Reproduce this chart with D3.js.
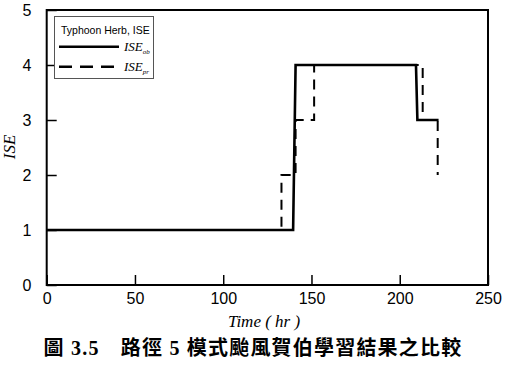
<!DOCTYPE html>
<html>
<head>
<meta charset="utf-8">
<style>
  body { margin: 0; background: #fff; }
  svg { display: block; }
  .tick text { font-family: Arial, 'Liberation Sans', sans-serif; font-size: 16px; fill: #000; }
</style>
</head>
<body>
<svg width="505" height="365"></svg>
<script src="https://d3js.org/d3.v7.min.js"></script>
<script>
// observed ISE and predicted ISE (step series)
let obTime = [0, 139.6, 141, 209.2, 210, 222];
let obISE  = [1, 1, 4, 4, 3, 3];
let prTime = [0, 133, 133, 141, 141, 151.5, 151.5, 213, 213, 221.5, 221.5];
let prISE  = [1, 1, 2, 2, 3, 3, 4, 4, 3, 3, 2];
let xTicks = [0, 50, 100, 150, 200, 250];
let yTicks = [0, 1, 2, 3, 4, 5];

let svg = d3.select("svg");
let x = d3.scaleLinear().domain([0, 250]).range([46.7, 488]);
let y = d3.scaleLinear().domain([0, 5]).range([285, 10]);

// inward ticks
let xAxis = svg.append("g")
  .attr("transform", `translate(0,${y(0)})`)
  .call(d3.axisBottom(x).tickValues(xTicks).tickFormat(d3.format("d")).tickSize(-10).tickPadding(16));
let yAxis = svg.append("g")
  .attr("transform", `translate(${x(0)},0)`)
  .call(d3.axisLeft(y).tickValues(yTicks).tickFormat(d3.format("d")).tickSize(-10).tickPadding(12));
[xAxis, yAxis].forEach(a => {
  a.select(".domain").remove();
  a.selectAll(".tick line").attr("stroke", "#000").attr("stroke-width", 1.5);
});
xAxis.selectAll(".tick text").attr("dy", "0.2em");
yAxis.selectAll(".tick text").attr("dx", "-0.2em");

// frame
svg.append("rect")
  .attr("x", x(0)).attr("y", y(5))
  .attr("width", x(250) - x(0)).attr("height", y(0) - y(5))
  .attr("fill", "none").attr("stroke", "#000").attr("stroke-width", 2);

let line = d3.line().x(d => x(d[0])).y(d => y(d[1]));

svg.append("path")
  .datum(prTime.map((t, i) => [t, prISE[i]]))
  .attr("d", line)
  .attr("fill", "none").attr("stroke", "#000").attr("stroke-width", 2)
  .attr("stroke-dasharray", "10,7");

svg.append("path")
  .datum(obTime.map((t, i) => [t, obISE[i]]))
  .attr("d", line)
  .attr("fill", "none").attr("stroke", "#000").attr("stroke-width", 2.6);

// legend
let lg = svg.append("g");
lg.append("rect").attr("x", 54.5).attr("y", 16.5).attr("width", 99).attr("height", 62)
  .attr("fill", "#fff").attr("stroke", "#555").attr("stroke-width", 1);
lg.append("text").attr("x", 61).attr("y", 34)
  .style("font-family", "Arial, 'Liberation Sans', sans-serif").style("font-size", "10.5px")
  .text("Typhoon Herb, ISE");
lg.append("line").attr("x1", 59).attr("x2", 119).attr("y1", 46.7).attr("y2", 46.7)
  .attr("stroke", "#000").attr("stroke-width", 2.6);
lg.append("line").attr("x1", 59).attr("x2", 119).attr("y1", 66.7).attr("y2", 66.7)
  .attr("stroke", "#000").attr("stroke-width", 2.6).attr("stroke-dasharray", "13,8");
[["ob", 50.5], ["pr", 70.5]].forEach(([sub, yy]) => {
  let t = lg.append("text").attr("x", 124).attr("y", yy)
    .style("font-family", "'Liberation Serif', serif").style("font-style", "italic").style("font-size", "13px");
  t.append("tspan").text("ISE");
  t.append("tspan").attr("dy", 3).style("font-size", "7px").text(sub);
});

// axis titles
svg.append("text").attr("x", 264).attr("y", 327).attr("text-anchor", "middle")
  .style("font-family", "'Liberation Serif', serif").style("font-style", "italic").style("font-size", "17px")
  .text("Time ( hr )");
svg.append("text").attr("transform", "translate(15,147) rotate(-90)").attr("text-anchor", "middle")
  .style("font-family", "'Liberation Serif', serif").style("font-style", "italic").style("font-size", "17px")
  .text("ISE");

// caption
let cap = svg.append("text").attr("x", 253).attr("y", 355).attr("text-anchor", "middle")
  .style("font-family", "'Liberation Serif', 'Noto Sans CJK TC', serif").style("font-size", "20px")
  .style("font-weight", "bold").style("letter-spacing", "1.2px");
cap.text("圖 3.5\u3000路徑 5 模式颱風賀伯學習結果之比較");
</script>
</body>
</html>
